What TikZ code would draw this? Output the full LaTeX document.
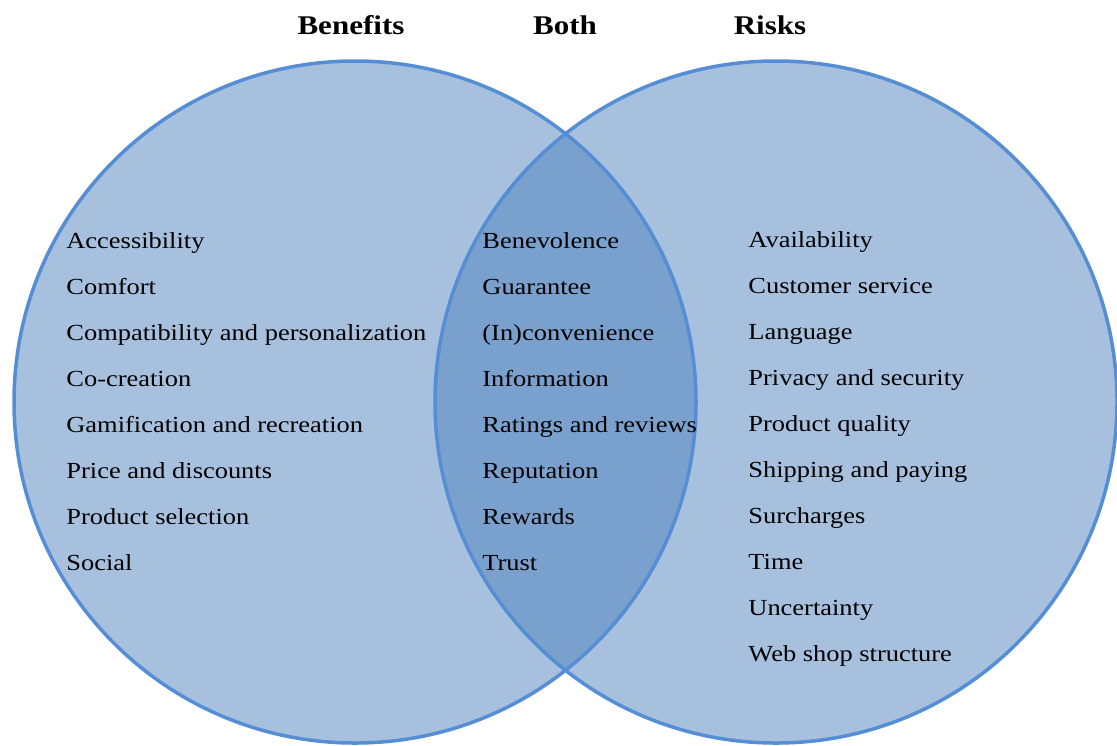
\documentclass[tikz,border=0pt]{standalone}
\usepackage{fontspec}
\setmainfont{Liberation Serif}[FakeStretch=1.15]
\definecolor{bleuvenn}{RGB}{79,129,189}
\definecolor{bordvenn}{RGB}{85,142,213}
\begin{document}
\begin{tikzpicture}[x=0.5pt, y=-0.5pt, line join=round, line cap=round,
    terme/.style={anchor=base west, inner sep=0pt, font=\fontsize{11.5}{14}\selectfont},
    titre/.style={anchor=base, inner sep=0pt, font=\fontsize{13.5}{16}\selectfont\bfseries}]

    \useasboundingbox (0,0) rectangle (1117,745);

    % Centres des deux cercles
    \coordinate (G) at (355,402);
    \coordinate (D) at (776,402);

    \fill[bleuvenn, opacity=0.5] (G) circle (341); % Cercle gauche
    \fill[bleuvenn, opacity=0.5] (D) circle (341); % Cercle droit
    \draw[bordvenn, line width=1.75pt] (G) circle (341);
    \draw[bordvenn, line width=1.75pt] (D) circle (341);

    % Titres
    \node[titre] (tB) at (351,34) {Benefits};
    \node[titre] (tM) at (565,34) {Both};
    \node[titre] (tR) at (770,34) {Risks};

    % Avantages
    \node[terme] (b1) at (66,248) {Accessibility};
    \node[terme] (b2) at (66,294) {Comfort};
    \node[terme] (b3) at (66,340) {Compatibility and personalization};
    \node[terme] (b4) at (66,386) {Co-creation};
    \node[terme] (b5) at (66,432) {Gamification and recreation};
    \node[terme] (b6) at (66,478) {Price and discounts};
    \node[terme] (b7) at (66,524) {Product selection};
    \node[terme] (b8) at (66,570) {Social};

    % Les deux
    \node[terme] (m1) at (482,248) {Benevolence};
    \node[terme] (m2) at (482,294) {Guarantee};
    \node[terme] (m3) at (482,340) {(In)convenience};
    \node[terme] (m4) at (482,386) {Information};
    \node[terme] (m5) at (482,432) {Ratings and reviews};
    \node[terme] (m6) at (482,478) {Reputation};
    \node[terme] (m7) at (482,524) {Rewards};
    \node[terme] (m8) at (482,570) {Trust};

    % Risques
    \node[terme] (r1) at (748,247) {Availability};
    \node[terme] (r2) at (748,293) {Customer service};
    \node[terme] (r3) at (748,339) {Language};
    \node[terme] (r4) at (748,385) {Privacy and security};
    \node[terme] (r5) at (748,431) {Product quality};
    \node[terme] (r6) at (748,477) {Shipping and paying};
    \node[terme] (r7) at (748,523) {Surcharges};
    \node[terme] (r8) at (748,569) {Time};
    \node[terme] (r9) at (748,615) {Uncertainty};
    \node[terme] (r10) at (748,661) {Web shop structure};

\end{tikzpicture}
\end{document}
